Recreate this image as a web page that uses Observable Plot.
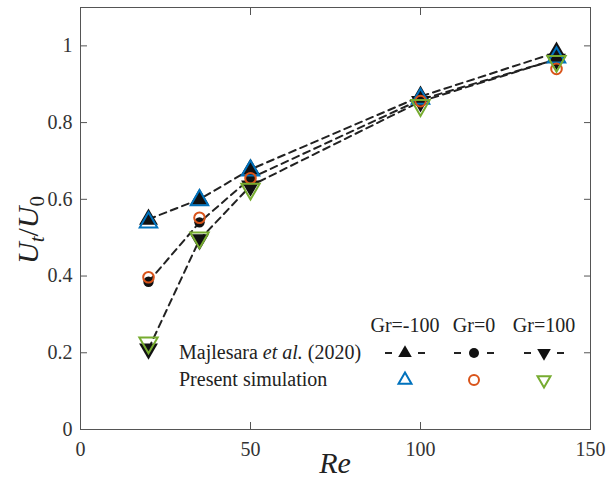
<!DOCTYPE html>
<html><head><meta charset="utf-8">
<script src="https://cdn.jsdelivr.net/npm/d3@7"></script>
<script src="https://cdn.jsdelivr.net/npm/@observablehq/plot@0.6"></script>
<style>
body{margin:0;background:#fff;}
#wrap{position:relative;width:606px;height:483px;font-family:"Liberation Serif","Times New Roman",serif;}
#legend{position:absolute;left:0;top:0;pointer-events:none;}
</style></head><body><div id="wrap"></div>
<script>
// ---- data ----
const re = [20, 35, 50, 100, 140];
const majNeg  = [0.548, 0.600, 0.678, 0.868, 0.983];
const majZero = [0.385, 0.540, 0.655, 0.860, 0.965];
const majPos  = [0.210, 0.495, 0.635, 0.855, 0.965];
const simNeg  = [0.540, 0.598, 0.675, 0.862, 0.970];
const simZero = [0.397, 0.552, 0.655, 0.856, 0.940];
const simPos  = [0.226, 0.500, 0.627, 0.845, 0.960];
const xTicks = [0, 50, 100, 150];
const yTicks = [0, 0.2, 0.4, 0.6, 0.8, 1];
const grLabels = ["Gr=-100", "Gr=0", "Gr=100"];
const rowLabels = ["Majlesara", "et al.", "(2020)", "Present simulation"];

const blue = "#0072BD", orange = "#D95319", green = "#77AC30";
const rows = (ys) => re.map((x, i) => ({re: x, u: ys[i]}));

const dash = "7,5";
const axisGrey = "#555";

const plot = Plot.plot({
  width: 606, height: 483,
  marginLeft: 80, marginRight: 16, marginTop: 7, marginBottom: 54,
  style: {fontFamily: '"Liberation Serif", serif', fontSize: "20px", color: "#333", background: "#fff"},
  x: {domain: [0, 150], label: null},
  y: {domain: [0, 1.1], label: null},
  marks: [
    Plot.line(rows(majNeg),  {x: "re", y: "u", stroke: "#222", strokeWidth: 2, strokeDasharray: dash}),
    Plot.line(rows(majZero), {x: "re", y: "u", stroke: "#222", strokeWidth: 2, strokeDasharray: dash}),
    Plot.line(rows(majPos),  {x: "re", y: "u", stroke: "#222", strokeWidth: 2, strokeDasharray: dash}),
    Plot.dot(rows(majNeg),  {x: "re", y: "u", symbol: "triangle", r: 7, fill: "#111", stroke: "none"}),
    Plot.dot(rows(majZero), {x: "re", y: "u", symbol: "circle", r: 5.2, fill: "#111", stroke: "none"}),
    Plot.dot(rows(majPos),  {x: "re", y: "u", symbol: "triangle", rotate: 180, r: 7, fill: "#111", stroke: "none"}),
    Plot.dot(rows(simNeg),  {x: "re", y: "u", symbol: "triangle", r: 6.5, fill: "none", stroke: blue, strokeWidth: 2}),
    Plot.dot(rows(simZero), {x: "re", y: "u", symbol: "circle", r: 5.3, fill: "none", stroke: orange, strokeWidth: 2}),
    Plot.dot(rows(simPos),  {x: "re", y: "u", symbol: "triangle", rotate: 180, r: 6.8, fill: "none", stroke: green, strokeWidth: 2}),
    Plot.frame({stroke: axisGrey, strokeWidth: 1}),
    Plot.axisX({ticks: xTicks, tickSize: 0, tickPadding: 12, label: null, tickFormat: d => String(d)}),
    Plot.axisX({ticks: xTicks, tickSize: -7, tickFormat: () => "", label: null, stroke: axisGrey}),
    Plot.axisX({anchor: "top", ticks: xTicks, tickSize: -7, tickFormat: () => "", label: null, stroke: axisGrey}),
    Plot.axisY({ticks: yTicks, tickSize: 0, tickPadding: 8, label: null, tickFormat: d => String(d)}),
    Plot.axisY({ticks: yTicks, tickSize: -7, tickFormat: () => "", label: null, stroke: axisGrey}),
    Plot.axisY({anchor: "right", ticks: yTicks, tickSize: -7, tickFormat: () => "", label: null, stroke: axisGrey})
  ]
});
document.getElementById("wrap").appendChild(plot);

// axis titles
const svg = d3.select(plot);
const xs = plot.scale("x").range, ys = plot.scale("y").range;
svg.append("text").attr("x", (xs[0] + xs[1]) / 2).attr("y", 473)
  .attr("text-anchor", "middle").attr("font-size", 30).attr("font-style", "italic")
  .attr("fill", "#222").attr("font-family", '"Liberation Serif", serif').text("Re");
const yl = svg.append("text").attr("transform", `translate(38,${(ys[0] + ys[1]) / 2 + 12}) rotate(-90)`)
  .attr("text-anchor", "middle").attr("font-size", 30).attr("fill", "#222")
  .attr("font-family", '"Liberation Serif", serif');
yl.append("tspan").attr("font-style", "italic").text("U");
yl.append("tspan").attr("font-style", "italic").attr("font-size", 21).attr("dy", 6).text("t");
yl.append("tspan").attr("dy", -6).text("/");
yl.append("tspan").attr("font-style", "italic").text("U");
yl.append("tspan").attr("font-size", 21).attr("dy", 6).text("0");

// legend overlay
const lg = d3.select("#wrap").append("svg").attr("id", "legend").attr("width", 606).attr("height", 483)
  .attr("font-family", '"Liberation Serif", serif').attr("font-size", 20).attr("fill", "#222");
const colX = [405, 474, 544];
grLabels.forEach((t, i) => lg.append("text").attr("x", colX[i]).attr("y", 332).attr("text-anchor", "middle").text(t));
const r1 = lg.append("text").attr("x", 179).attr("y", 359);
r1.append("tspan").text(rowLabels[0] + " ");
r1.append("tspan").attr("font-style", "italic").text(rowLabels[1]);
r1.append("tspan").text(" " + rowLabels[2]);
lg.append("text").attr("x", 179).attr("y", 386).text(rowLabels[3]);
const sym = (type, r) => d3.symbol(type, Math.PI * r * r)();
const shapes = [[d3.symbolTriangle2, 0], [d3.symbolCircle, 0], [d3.symbolTriangle2, 180]];
const simCols = [blue, orange, green];
shapes.forEach(([t, rot], i) => {
  const cx = colX[i], cy = 353;
  [-1, 1].forEach(s => lg.append("line").attr("x1", cx + s * 13).attr("x2", cx + s * 20)
    .attr("y1", cy).attr("y2", cy).attr("stroke", "#222").attr("stroke-width", 2));
  lg.append("path").attr("d", sym(t, t === d3.symbolCircle ? 5 : 6.5))
    .attr("transform", `translate(${cx},${cy}) rotate(${rot})`).attr("fill", "#111");
  lg.append("path").attr("d", sym(t, t === d3.symbolCircle ? 5 : 6.2))
    .attr("transform", `translate(${cx},380) rotate(${rot})`).attr("fill", "none")
    .attr("stroke", simCols[i]).attr("stroke-width", 2);
});
</script></body></html>
